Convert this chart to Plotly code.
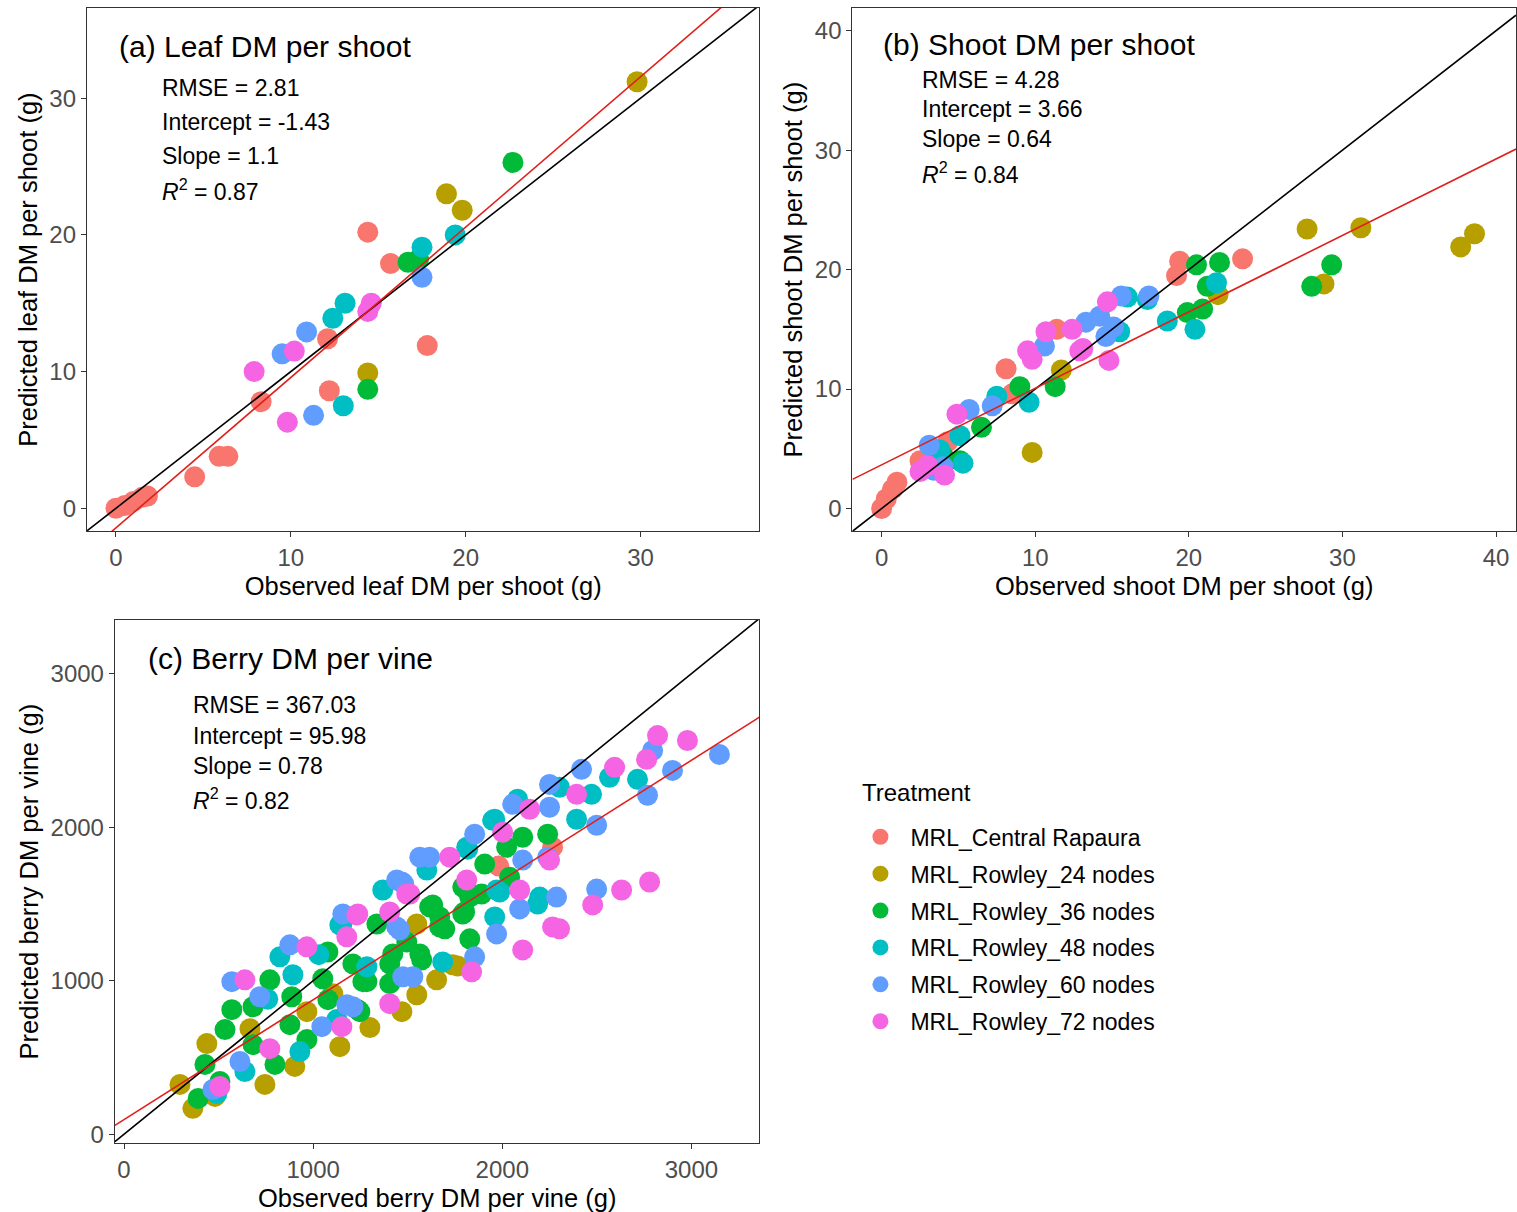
import plotly.graph_objects as go

treatments = ["MRL_Central Rapaura", "MRL_Rowley_24 nodes", "MRL_Rowley_36 nodes",
              "MRL_Rowley_48 nodes", "MRL_Rowley_60 nodes", "MRL_Rowley_72 nodes"]
colors = ["#F8766D", "#B79F00", "#00BA38", "#00BFC4", "#619CFF", "#F564E3"]

# ---------------- (a) Leaf DM per shoot ----------------
leaf_obs_rap = [0.0, 0.5, 1.0, 1.5, 1.8, 4.5, 5.9, 6.4, 8.3, 12.1, 12.2, 14.4, 15.7, 17.8]
leaf_pred_rap = [0.0, 0.2, 0.5, 0.8, 0.9, 2.3, 3.8, 3.8, 7.8, 12.4, 8.6, 20.2, 17.9, 11.9]
leaf_obs_24 = [29.8, 18.9, 19.8, 14.4]
leaf_pred_24 = [31.2, 23.0, 21.8, 9.9]
leaf_obs_36 = [22.7, 16.7, 17.3, 14.4]
leaf_pred_36 = [25.3, 18.0, 18.2, 8.7]
leaf_obs_48 = [19.4, 17.5, 13.1, 12.4, 13.0]
leaf_pred_48 = [20.0, 19.1, 15.0, 13.9, 7.5]
leaf_obs_60 = [17.5, 10.9, 9.5, 11.3]
leaf_pred_60 = [16.9, 12.9, 11.3, 6.8]
leaf_obs_72 = [7.9, 10.2, 14.6, 14.4, 9.8]
leaf_pred_72 = [10.0, 11.5, 15.0, 14.4, 6.3]

# ---------------- (b) Shoot DM per shoot ----------------
shoot_obs_rap = [0.0, 0.3, 0.7, 1.0, 2.7, 4.3, 8.1, 8.5, 11.4, 19.4, 19.2, 23.5, 2.5]
shoot_pred_rap = [0.0, 0.8, 1.6, 2.2, 3.9, 5.6, 11.7, 9.6, 15.0, 20.7, 19.5, 20.9, 4.0]
shoot_obs_24 = [9.8, 11.7, 27.7, 31.2, 28.8, 37.7, 38.6, 21.9]
shoot_pred_24 = [4.7, 11.6, 23.4, 23.5, 18.8, 21.9, 23.0, 17.9]
shoot_obs_36 = [3.5, 4.0, 5.1, 6.5, 9.0, 11.3, 19.9, 20.5, 20.9, 21.2, 22.0, 28.0, 29.3]
shoot_pred_36 = [3.9, 4.4, 4.0, 6.8, 10.2, 10.2, 16.4, 20.4, 16.7, 18.6, 20.6, 18.6, 20.4]
shoot_obs_48 = [3.8, 5.1, 5.3, 7.5, 9.6, 15.5, 16.0, 17.3, 18.6, 20.4, 21.8]
shoot_pred_48 = [4.9, 6.1, 3.8, 9.4, 8.9, 14.8, 17.7, 17.5, 15.7, 15.0, 18.9]
shoot_obs_60 = [3.1, 3.4, 4.0, 5.7, 7.2, 10.6, 13.3, 14.2, 14.6, 15.6, 17.4, 15.1]
shoot_pred_60 = [5.3, 3.2, 3.5, 8.3, 8.6, 13.6, 15.6, 16.1, 14.4, 17.8, 17.8, 15.2]
shoot_obs_72 = [2.5, 3.0, 4.1, 4.9, 9.5, 9.8, 10.7, 12.4, 12.9, 14.7, 14.8, 13.1]
shoot_pred_72 = [3.1, 3.6, 2.8, 7.9, 13.2, 12.5, 14.8, 15.0, 13.2, 17.3, 12.4, 13.4]

# ---------------- (c) Berry DM per vine ----------------
berry_obs_rap = [1981, 2266]
berry_pred_rap = [1747, 1870]
berry_obs_24 = [296, 364, 438, 481, 745, 666, 903, 967, 1104, 1141, 1300, 1469, 1548,
                1653, 1738, 1548, 1764]
berry_pred_24 = [325, 169, 591, 247, 325, 688, 442, 799, 916, 571, 695, 799, 909,
                 1006, 1104, 1370, 1097]
berry_obs_36 = [392, 507, 428, 534, 570, 682, 682, 798, 771, 887, 877, 967, 1078, 1051,
                1078, 1210, 1337, 1421, 1564, 1616, 1236, 1263, 1405, 1495, 1405, 1247,
                1284, 1632, 1696, 1791, 1801, 1828, 1791, 1812, 1891, 1669, 1574, 1907,
                2023, 2108, 2240, 2039, 1669, 1828]
berry_pred_36 = [234, 344, 455, 682, 812, 831, 584, 455, 1006, 896, 714, 617, 877, 1013,
                 1188, 1110, 1370, 1175, 1175, 1481, 812, 994, 1110, 1253, 981, 799,
                 994, 1494, 1338, 1610, 1448, 1273, 1435, 1591, 1565, 1351, 1136, 1760,
                 1870, 1935, 1955, 1675, 1416, 1545]
berry_obs_48 = [491, 639, 824, 893, 930, 1125, 1141, 1152, 1284, 1368, 1601, 1685, 1817,
                1949, 1812, 1960, 2081, 2303, 2472, 2393, 2567, 2715, 2187, 1986, 1970,
                1960, 2198, 760, 1030]
berry_pred_48 = [266, 409, 1156, 1039, 539, 747, 1364, 1370, 1091, 1591, 1721, 1123, 1857,
                 2045, 1870, 2052, 2182, 2260, 2214, 2052, 2325, 2312, 1500, 1578, 1591,
                 1416, 1545, 880, 1170]
berry_obs_60 = [470, 570, 613, 718, 877, 1046, 1157, 1210, 1442, 1458, 1474, 1616, 1469,
                1564, 1854, 2055, 2250, 1854, 1970, 2092, 2287, 2499, 2250, 2419, 2499,
                2768, 2900, 2795, 3148, 1527, 1442, 1178, 2240, 2108, 1479]
berry_pred_60 = [292, 994, 474, 896, 1234, 701, 1435, 831, 1656, 1331, 1026, 1805, 1643,
                 1805, 1955, 2149, 2279, 1156, 1305, 1468, 1545, 1597, 2130, 2377, 2013,
                 2208, 2370, 2500, 2474, 1026, 1351, 844, 1805, 1786, 1630]
berry_obs_72 = [507, 639, 771, 967, 1152, 1178, 1231, 1495, 1405, 1405, 1236, 1511, 1722,
                1812, 2002, 2145, 2092, 2266, 2108, 2303, 1838, 2250, 2478, 2631, 2779,
                2821, 2979, 2763, 2594, 2393]
berry_pred_72 = [312, 1006, 558, 1221, 701, 1286, 1429, 1565, 851, 1448, 1435, 1565, 1805,
                 1656, 1968, 2117, 1591, 1351, 1201, 1338, 1058, 1786, 1494, 1591, 1643,
                 2597, 2565, 2442, 2390, 2214]

# fit statistics (as printed)
panel_titles = ["(a) Leaf DM per shoot", "(b) Shoot DM per shoot", "(c) Berry DM per vine"]
rmse = ["2.81", "4.28", "367.03"]
intercepts = [-1.43, 3.66, 95.98]
slopes = [1.1, 0.64, 0.78]
r2 = ["0.87", "0.84", "0.82"]
x_titles = ["Observed leaf DM per shoot (g)", "Observed shoot DM per shoot (g)",
            "Observed berry DM per vine (g)"]
y_titles = ["Predicted leaf DM per shoot (g)", "Predicted shoot DM per shoot (g)",
            "Predicted berry DM per vine (g)"]
x_ticks = [[0, 10, 20, 30], [0, 10, 20, 30, 40], [0, 1000, 2000, 3000]]
y_ticks = [[0, 10, 20, 30], [0, 10, 20, 30, 40], [0, 1000, 2000, 3000]]
x_ranges = [[-1.66, 36.8], [-1.9, 41.3], [-48, 3360]]
y_ranges = [[-1.68, 36.6], [-1.9, 41.9], [-58, 3350]]

obs = [
    [leaf_obs_rap, leaf_obs_24, leaf_obs_36, leaf_obs_48, leaf_obs_60, leaf_obs_72],
    [shoot_obs_rap, shoot_obs_24, shoot_obs_36, shoot_obs_48, shoot_obs_60, shoot_obs_72],
    [berry_obs_rap, berry_obs_24, berry_obs_36, berry_obs_48, berry_obs_60, berry_obs_72],
]
pred = [
    [leaf_pred_rap, leaf_pred_24, leaf_pred_36, leaf_pred_48, leaf_pred_60, leaf_pred_72],
    [shoot_pred_rap, shoot_pred_24, shoot_pred_36, shoot_pred_48, shoot_pred_60, shoot_pred_72],
    [berry_pred_rap, berry_pred_24, berry_pred_36, berry_pred_48, berry_pred_60, berry_pred_72],
]

W, H = 1517, 1212
# plot-area pixel boxes (left, right, top, bottom)
boxes = [(87, 760, 8, 533), (853, 1517, 8, 533), (115, 760, 622, 1147)]

FONT = "Arial, Liberation Sans, sans-serif"
fig = go.Figure()

for p in range(3):
    ax = "" if p == 0 else str(p + 1)
    for i, name in enumerate(treatments):
        fig.add_trace(go.Scatter(
            x=obs[p][i], y=pred[p][i], mode="markers", name=name,
            legendgroup=name, showlegend=(p == 0),
            marker=dict(size=21, color=colors[i], line=dict(width=0)),
            xaxis="x" + ax, yaxis="y" + ax, hoverinfo="x+y+name"))
    xr = x_ranges[p]
    fig.add_trace(go.Scatter(x=xr, y=xr, mode="lines", showlegend=False,
                             line=dict(color="black", width=1.6),
                             xaxis="x" + ax, yaxis="y" + ax, hoverinfo="skip"))
    fig.add_trace(go.Scatter(x=xr, y=[intercepts[p] + slopes[p] * v for v in xr],
                             mode="lines", showlegend=False,
                             line=dict(color="#E0201B", width=1.6),
                             xaxis="x" + ax, yaxis="y" + ax, hoverinfo="skip"))

layout = dict(width=W, height=H, margin=dict(l=0, r=0, t=0, b=0),
              paper_bgcolor="white", plot_bgcolor="white",
              font=dict(family=FONT, color="black"))

annotations = []
stat_y = [[0.848, 0.783, 0.718, 0.653], [0.863, 0.806, 0.749, 0.684], [0.838, 0.779, 0.720, 0.657]]
title_x = [0.0446, 0.0437, 0.048]
title_y = [0.926, 0.9295, 0.926]
stat_x = [0.108, 0.1024, 0.118]
for p in range(3):
    l, r, t, b = boxes[p]
    ax = "" if p == 0 else str(p + 1)
    axis_common = dict(showgrid=False, zeroline=False, showline=True, mirror=True,
                       linecolor="#333333", linewidth=1.3, ticks="outside", ticklen=5,
                       tickcolor="#333333", tickwidth=1.3,
                       tickfont=dict(size=24, color="#4D4D4D", family=FONT))
    layout["xaxis" + ax] = dict(axis_common, domain=[l / W, r / W], range=x_ranges[p],
                                tickvals=x_ticks[p], anchor="y" + ax,
                                title=dict(text=x_titles[p], font=dict(size=25.5), standoff=6))
    layout["yaxis" + ax] = dict(axis_common, domain=[1 - b / H, 1 - t / H], range=y_ranges[p],
                                tickvals=y_ticks[p], anchor="x" + ax,
                                title=dict(text=y_titles[p], font=dict(size=25.5), standoff=4))
    xd, yd = "x" + ax + " domain", "y" + ax + " domain"
    annotations.append(dict(text=panel_titles[p], xref=xd, yref=yd, x=title_x[p], y=title_y[p],
                            xanchor="left", yanchor="middle", showarrow=False,
                            font=dict(size=30, color="black")))
    lines = ["RMSE = " + rmse[p], "Intercept = " + f"{intercepts[p]:g}",
             "Slope = " + f"{slopes[p]:g}", "<i>R</i><sup>2</sup> = " + r2[p]]
    for k, txt in enumerate(lines):
        annotations.append(dict(text=txt, xref=xd, yref=yd, x=stat_x[p], y=stat_y[p][k],
                                xanchor="left", yanchor="middle", showarrow=False,
                                font=dict(size=23, color="black")))

# legend title as text
annotations.append(dict(text="Treatment", xref="paper", yref="paper", x=861 / W, y=1 - 795 / H,
                        xanchor="left", yanchor="middle", showarrow=False,
                        font=dict(size=24, color="black")))

layout["annotations"] = annotations
layout["legend"] = dict(x=851 / W, y=1 - 818 / H, xanchor="left", yanchor="top",
                        font=dict(size=23), tracegroupgap=4, itemsizing="trace",
                        itemwidth=50, bgcolor="rgba(0,0,0,0)")
fig.update_layout(**layout)

fig.write_html("out.html", config={"displayModeBar": False},
               post_script="document.body.style.margin='0';")
